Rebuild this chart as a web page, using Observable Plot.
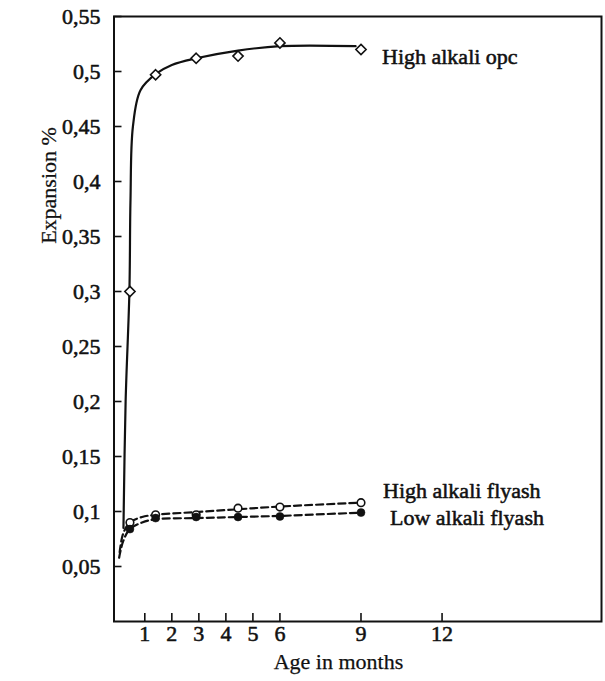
<!DOCTYPE html>
<html><head><meta charset="utf-8">
<script src="https://cdn.jsdelivr.net/npm/d3@7"></script>
<script src="https://cdn.jsdelivr.net/npm/@observablehq/plot@0.6"></script>
<style>body{margin:0;background:#fff} #chart svg{display:block}</style>
</head><body><div id="chart"></div>
<script>
// measured ages (months) and expansions (%)
const months = [0.45, 1.4, 2.9, 4.45, 6, 9];
const opc = [0.30, 0.497, 0.512, 0.514, 0.526, 0.520];
const highFly = [0.090, 0.097, 0.097, 0.103, 0.104, 0.108];
const lowFly = [0.084, 0.094, 0.095, 0.095, 0.0955, 0.099];

// fitted curves
const opcCurveX = [0.21, 0.29, 0.43, 0.47, 0.56, 0.84, 1.42, 2.0, 2.9, 4.45, 6, 8.8];
const opcCurveY = [0.085, 0.2, 0.3, 0.383, 0.45, 0.483, 0.498, 0.506, 0.512, 0.519, 0.523, 0.523];
const highCurveX = [0.07, 0.2, 0.45, 0.9, 1.4, 2.9, 4.45, 6, 9];
const highCurveY = [0.063, 0.08, 0.09, 0.095, 0.097, 0.0995, 0.102, 0.1045, 0.108];
const lowCurveX = [0.05, 0.2, 0.45, 0.9, 1.4, 2.9, 4.45, 6, 9];
const lowCurveY = [0.058, 0.073, 0.084, 0.09, 0.093, 0.094, 0.095, 0.096, 0.099];

const seriesNames = ["High alkali opc", "High alkali flyash", "Low alkali flyash"];
const xTicks = [1, 2, 3, 4, 5, 6, 9, 12];
const yTicks = [0.05, 0.1, 0.15, 0.2, 0.25, 0.3, 0.35, 0.4, 0.45, 0.5, 0.55];
const xTitle = "Age in months";
const yTitle = "Expansion %";

const W = 605, H = 681;
const mL = 113.5, mR = 4, mT = 16, mB = 60;
const plotW = W - mL - mR, plotH = H - mT - mB;
const ink = "#111";
const serif = "Liberation Serif";
const fs = 22;
const fmt = d => String(+d.toFixed(2)).replace(".", ",");
const zip = (xs, ys) => xs.map((x, i) => ({x, y: ys[i]}));

const opcPts = zip(months, opc), highPts = zip(months, highFly), lowPts = zip(months, lowFly);
const lastOf = a => a[a.length - 1];
const boldText = {fontFamily: serif, fontSize: fs, fill: ink, stroke: ink, strokeWidth: 0.55};
const plainText = {fontFamily: serif, fontSize: fs, fill: ink, stroke: ink, strokeWidth: 0.25};

const chart = Plot.plot({
  width: W, height: H,
  marginLeft: mL, marginRight: mR, marginTop: mT, marginBottom: mB,
  style: {fontFamily: serif, background: "#fff"},
  x: {domain: [-0.14, 17.9], axis: null},
  y: {domain: [0, 0.55], axis: null},
  marks: [
    Plot.text(yTicks, {y: d => d, frameAnchor: "left", dx: -13.5, text: fmt, textAnchor: "end", ...boldText}),
    Plot.text(xTicks, {x: d => d, frameAnchor: "bottom", dy: 19, text: d => String(d), textAnchor: "middle", ...boldText}),
    Plot.tickY(yTicks, {y: d => d, insetRight: plotW - 8, stroke: ink, strokeWidth: 1.6}),
    Plot.tickX(xTicks, {x: d => d, insetTop: plotH - 8, stroke: ink, strokeWidth: 1.6}),
    Plot.frame({stroke: ink, strokeWidth: 2}),
    Plot.line(zip(opcCurveX, opcCurveY), {x: "x", y: "y", curve: "catmull-rom", stroke: ink, strokeWidth: 2.2}),
    Plot.line(zip(highCurveX, highCurveY), {x: "x", y: "y", curve: "catmull-rom", stroke: ink, strokeWidth: 2.2, strokeDasharray: "7,4"}),
    Plot.line(zip(lowCurveX, lowCurveY), {x: "x", y: "y", curve: "catmull-rom", stroke: ink, strokeWidth: 2.2, strokeDasharray: "7,4"}),
    Plot.dot(opcPts, {x: "x", y: "y", symbol: "diamond2", r: 4.6, fill: "#fff", stroke: ink, strokeWidth: 1.6}),
    Plot.dot(highPts, {x: "x", y: "y", r: 3.8, fill: "#fff", stroke: ink, strokeWidth: 1.6}),
    Plot.dot(lowPts, {x: "x", y: "y", r: 4, fill: ink, stroke: ink, strokeWidth: 0.5}),
    Plot.text([lastOf(opcPts)], {x: "x", y: "y", text: () => seriesNames[0], dx: 21, dy: 7, textAnchor: "start", ...boldText}),
    Plot.text([lastOf(highPts)], {x: "x", y: "y", text: () => seriesNames[1], dx: 22, dy: -12, textAnchor: "start", ...boldText}),
    Plot.text([lastOf(lowPts)], {x: "x", y: "y", text: () => seriesNames[2], dx: 29, dy: 5, textAnchor: "start", ...boldText}),
    Plot.text([yTitle], {frameAnchor: "top-left", text: d => d, dx: -73.5, dy: 169, rotate: -90, textAnchor: "middle", ...plainText}),
    Plot.text([xTitle], {frameAnchor: "bottom-left", text: d => d, dx: 224.5, dy: 47, textAnchor: "middle", ...plainText})
  ]
});
document.getElementById("chart").append(chart);
</script>
</body></html>
